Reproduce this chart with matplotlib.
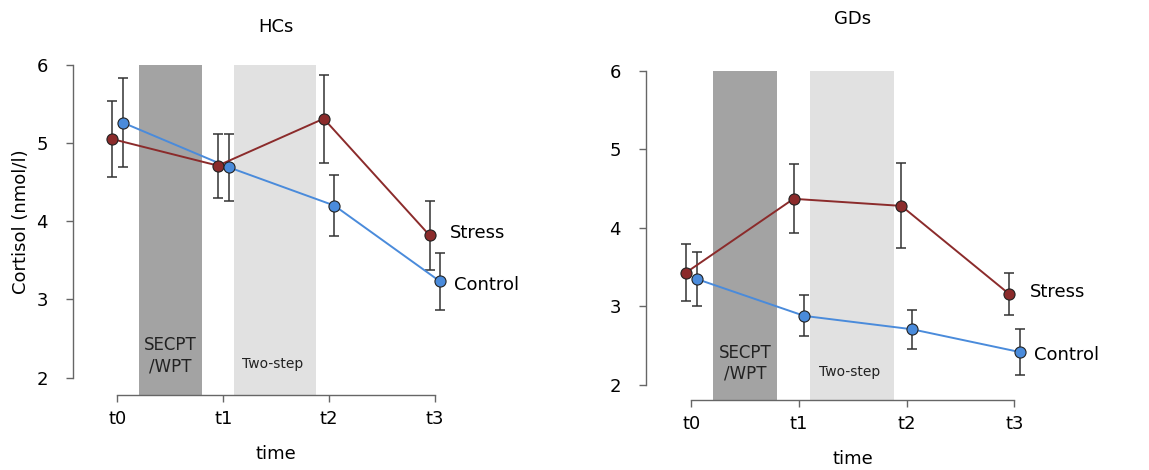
import numpy as np
import matplotlib.pyplot as plt

plt.rcParams['font.family'] = ['DejaVu Sans']

# time points
time_labels = ['t0', 't1', 't2', 't3']
times = np.arange(4)

# HCs panel
hc_stress = [5.05, 4.71, 5.31, 3.82]
hc_stress_err = [0.48, 0.41, 0.56, 0.44]
hc_control = [5.26, 4.69, 4.20, 3.23]
hc_control_err = [0.57, 0.43, 0.39, 0.36]

# GDs panel
gd_stress = [3.43, 4.37, 4.28, 3.16]
gd_stress_err = [0.36, 0.44, 0.54, 0.27]
gd_control = [3.35, 2.88, 2.71, 2.42]
gd_control_err = [0.34, 0.26, 0.25, 0.29]

# task windows (in time units)
task1 = (0.2, 0.8)
task2 = (1.1, 1.88)

stress_col = '#8b2b2b'
control_col = '#4a8bdb'


def panel(ax, title, stress, stress_err, control, control_err, ybottom, title_pad):
    ax.set_xlim(-0.42, 3.2)
    ax.set_ylim(ybottom, 6.2)
    ax.fill_between(task1, ybottom, 6, color='#a3a3a3', lw=0, zorder=0)
    ax.fill_between(task2, ybottom, 6, color='#e1e1e1', lw=0, zorder=0)

    ax.text(np.mean(task1), 2.28, 'SECPT\n/WPT', ha='center', va='center',
            fontsize=12, color='#222222', linespacing=1.2)
    ax.text(np.mean(task2) - 0.02, 2.17, 'Two-step', ha='center', va='center',
            fontsize=10, color='#222222')

    for vals, errs, col, off in [(stress, stress_err, stress_col, -0.05),
                                 (control, control_err, control_col, 0.05)]:
        ax.errorbar(times + off, vals, yerr=errs, fmt='none', ecolor='#333333',
                    elinewidth=1.1, capsize=3.6, capthick=1.1, zorder=2)
        ax.plot(times + off, vals, '-', color=col, lw=1.4, zorder=3)
        ax.plot(times + off, vals, 'o', mfc=col, mec='#222222', mew=0.8,
                ms=8, zorder=4)

    ax.text(times[-1] + 0.14, stress[-1] + 0.03, 'Stress', ha='left', va='center',
            fontsize=13, clip_on=False)
    ax.text(times[-1] + 0.18, control[-1] - 0.04, 'Control', ha='left', va='center',
            fontsize=13, clip_on=False)

    for s in ['top', 'right']:
        ax.spines[s].set_visible(False)
    for s in ['left', 'bottom']:
        ax.spines[s].set_color('#666666')
        ax.spines[s].set_linewidth(1.0)
    ax.spines['left'].set_bounds(2, 6)
    ax.spines['bottom'].set_bounds(0, 3)
    ax.set_yticks([2, 3, 4, 5, 6])
    ax.set_xticks(times)
    ax.set_xticklabels(time_labels)
    ax.tick_params(direction='out', length=5, width=1.0, color='#666666',
                   labelsize=13)
    ax.tick_params(axis='x', pad=6)
    ax.tick_params(axis='y', pad=13)
    ax.set_xlabel('time', fontsize=13, labelpad=12, x=(1.5 + 0.42) / 3.62)
    ax.set_title(title, fontsize=13, pad=title_pad, x=(1.5 + 0.42) / 3.62)


fig = plt.figure(figsize=(11.49, 4.70), dpi=100)
ax1 = fig.add_axes([73 / 1149, 1 - 395 / 470, 383 / 1149, 346 / 470])
ax2 = fig.add_axes([646 / 1149, 1 - 400 / 470, 390 / 1149, 345 / 470])

panel(ax1, 'HCs', hc_stress, hc_stress_err, hc_control, hc_control_err, 1.78, 12)
panel(ax2, 'GDs', gd_stress, gd_stress_err, gd_control, gd_control_err, 1.81, 22)
ax1.set_ylabel('Cortisol (nmol/l)', fontsize=13, labelpad=5)

fig.savefig('out.png', dpi=100)
